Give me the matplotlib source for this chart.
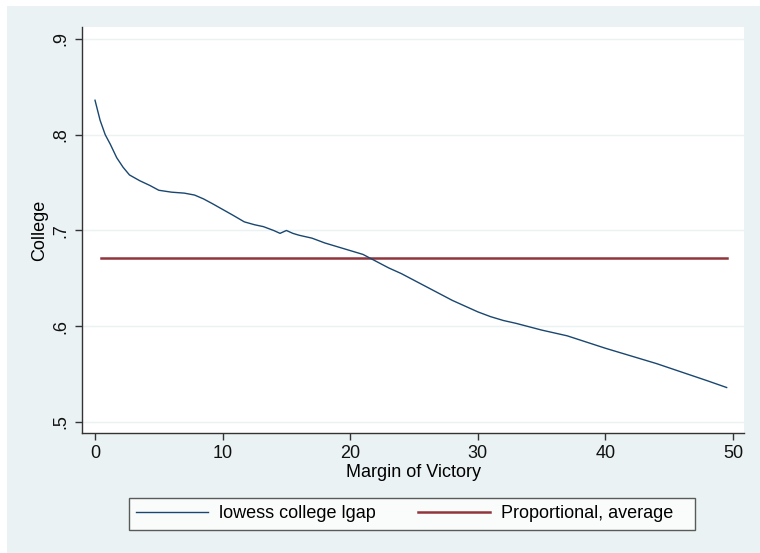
import numpy as np
import matplotlib.pyplot as plt
from matplotlib.patches import Rectangle
from matplotlib.lines import Line2D

# data
margin = [0, 0.4, 0.8, 1.2, 1.7, 2.2, 2.7, 3.5, 4.3, 5.0, 6.0, 7.0, 7.8, 8.5, 9.2,
          10.0, 10.8, 11.7, 12.5, 13.2, 14.0, 14.5, 15.0, 15.5, 16.0, 17.0, 18.0,
          19.0, 20.0, 21.0, 22.0, 23.0, 24.0, 25.0, 26.0, 27.0, 28.0, 29.0, 30.0,
          31.0, 32.0, 33.0, 35.0, 37.0, 40.0, 42.0, 44.0, 46.0, 48.0, 49.5]
college_lowess = [0.836, 0.815, 0.800, 0.790, 0.776, 0.766, 0.758, 0.752, 0.747,
                  0.742, 0.740, 0.739, 0.737, 0.733, 0.728, 0.722, 0.716, 0.709,
                  0.706, 0.704, 0.700, 0.697, 0.700, 0.697, 0.695, 0.692, 0.687,
                  0.683, 0.679, 0.675, 0.668, 0.661, 0.655, 0.648, 0.641, 0.634,
                  0.627, 0.621, 0.615, 0.610, 0.606, 0.603, 0.596, 0.590, 0.577,
                  0.569, 0.561, 0.552, 0.543, 0.536]
prop_x = [0.5, 49.5]
prop_avg = [0.671, 0.671]

yticks = [0.5, 0.6, 0.7, 0.8, 0.9]
ytick_labels = [".5", ".6", ".7", ".8", ".9"]
xticks = [0, 10, 20, 30, 40, 50]

BG = "#eaf2f3"
BLUE = "#1a476f"
RED = "#90353b"

plt.rcParams["font.family"] = ["Liberation Sans", "DejaVu Sans"]
plt.rcParams["font.size"] = 13

W, H = 760, 553
fig = plt.figure(figsize=(W / 100, H / 100), dpi=100, facecolor="white")
fig.patches.append(Rectangle((7 / W, 0), 1, 1 - 6 / H, transform=fig.transFigure,
                             facecolor=BG, edgecolor="none", zorder=-10))

ax = fig.add_axes([82 / W, 1 - 433 / H, (744 - 82) / W, (433 - 27) / H])
ax.set_facecolor("white")

ax.plot(margin, college_lowess, color=BLUE, lw=1.0, zorder=3)
ax.plot(prop_x, prop_avg, color=RED, lw=1.8, zorder=2)

ax.set_xlim(-1.02, 50.86)
ax.set_ylim(0.4885, 0.9125)
ax.set_yticks(yticks)
ax.set_yticklabels(ytick_labels, rotation=90, va="center")
ax.set_xticks(xticks)
ax.yaxis.grid(True, color=BG, lw=1.0)
ax.set_axisbelow(True)

for s in ["top", "right"]:
    ax.spines[s].set_visible(False)
for s in ["left", "bottom"]:
    ax.spines[s].set_color("#333333")
    ax.spines[s].set_linewidth(1.0)
ax.tick_params(direction="out", length=5, width=1, color="#333333",
               labelcolor="#111111", pad=4)

ax.set_xlabel("Margin of Victory", labelpad=1)
ax.set_ylabel("College", labelpad=3)

handles = [Line2D([], [], color=BLUE, lw=1.0), Line2D([], [], color=RED, lw=1.8)]
leg = fig.legend(handles, ["lowess college lgap", "Proportional, average   "],
                 loc="center", bbox_to_anchor=(412 / W, 1 - 514 / H), ncol=2,
                 frameon=True, fancybox=False, handlelength=4.0, handletextpad=0.6,
                 columnspacing=2.3, borderpad=0.4, fontsize=13)
leg.get_frame().set_edgecolor("#333333")
leg.get_frame().set_linewidth(1.0)
leg.get_frame().set_facecolor("white")

fig.savefig("out.png", dpi=100, facecolor=fig.get_facecolor())
